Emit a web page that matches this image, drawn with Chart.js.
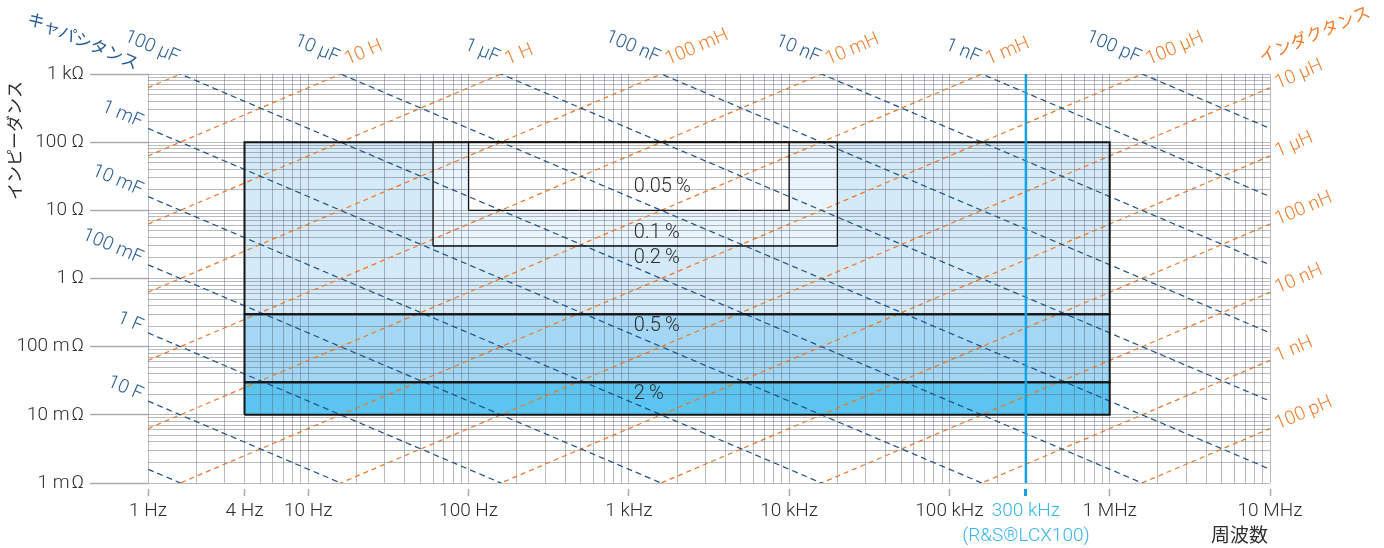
<!DOCTYPE html>
<html>
<head>
<meta charset="utf-8">
<script src="https://cdn.jsdelivr.net/npm/chart.js@4/dist/chart.umd.min.js"></script>
<style>
  html, body { margin: 0; padding: 0; background: #fff; }
  #box { width: 1384px; height: 548px; }
</style>
</head>
<body>
<div id="box"><canvas id="chart" width="1384" height="548"></canvas></div>
<script>
// axis ranges
const freqMin = 1, freqMax = 1e7;
const impMin = 1e-3, impMax = 1e3;

// labelled ticks
const freqTicks = [1, 4, 10, 100, 1e3, 1e4, 1e5, 3e5, 1e6, 1e7];
const freqTickLabels = ['1 Hz', '4 Hz', '10 Hz', '100 Hz', '1 kHz', '10 kHz', '100 kHz', ['300 kHz', '(R&S®LCX100)'], '1 MHz', '10 MHz'];
const impTicks = [1e-3, 1e-2, 0.1, 1, 10, 100, 1e3];
const impTickLabels = ['1 m\u200aΩ', '10 m\u200aΩ', '100 m\u200aΩ', '1 Ω', '10 Ω', '100 Ω', '1 kΩ'];

// capacitance lines (F) and inductance lines (H)
const capValues = [100, 10, 1, 0.1, 0.01, 1e-3, 1e-4, 1e-5, 1e-6, 1e-7, 1e-8, 1e-9, 1e-10];
const capLabels = ['', '10 F', '1 F', '100 mF', '10 mF', '1 mF', '100 µF', '10 µF', '1 µF', '100 nF', '10 nF', '1 nF', '100 pF'];
const indValues = [100, 10, 1, 0.1, 0.01, 1e-3, 1e-4, 1e-5, 1e-6, 1e-7, 1e-8, 1e-9, 1e-10];
const indLabels = ['', '10 H', '1 H', '100 mH', '10 mH', '1 mH', '100 µH', '10 µH', '1 µH', '100 nH', '10 nH', '1 nH', '100 pH'];

// accuracy regions
const accLabels = ['2\u2009%', '0.5\u2009%', '0.2\u2009%', '0.1\u2009%', '0.05\u2009%'];
const accFreqFrom = [4, 4, 4, 60, 100];
const accFreqTo = [1e6, 1e6, 1e6, 2e4, 1e4];
const accImpFrom = [0.01, 0.03, 0.3, 3, 10];
const accImpTo = [0.03, 0.3, 100, 100, 100];
const accLabelImp = [0.02, 0.2, 2, 4.6, 22];
const accLabelFreq = 1000;

// upper frequency of the LCX100
const lcxFreq = 3e5;

// styles
const accColors = ['#5bc4f1', '#a3d7f5', '#d5eaf8', '#eaf4fc', '#ffffff'];
const accBorder = [2, 2, 2, 1.3, 1.3];
const capColor = '#1f4e85', capText = '#2a5d94';
const indColor = '#ee7626', indText = '#f07d2c';
const darkText = '#2e2e2e';
const cyanLine = '#13a2e2', cyanText = '#37b4ea';
const gridColor = 'rgba(95,102,110,0.45)';
const tickMarkColor = '#a7acb1';
const family = 'Roboto, "Noto Sans CJK JP", sans-serif';
const jpFamily = '"Noto Sans CJK JP", sans-serif';

function findIdx(list, v) {
    return list.findIndex(t => Math.abs(v / t - 1) < 1e-6);
}

// grid values 1..9 per decade
function decadeSteps(lo, hi) {
    let out = [];
    for (let e = Math.round(Math.log10(lo)); e < Math.round(Math.log10(hi)); e++) {
        for (let k = 1; k < 10; k++) out.push(k * Math.pow(10, e));
    }
    out.push(hi);
    return out;
}

let datasets = [];
accLabels.forEach((name, i) => {
    const f1 = accFreqFrom[i], f2 = accFreqTo[i], z1 = accImpFrom[i], z2 = accImpTo[i];
    const rect = [{x: f1, y: z1}, {x: f2, y: z1}, {x: f2, y: z2}, {x: f1, y: z2}, {x: f1, y: z1}];
    datasets.push({data: rect, fill: 'shape', backgroundColor: accColors[i], borderWidth: 0, order: 30 - i});
    datasets.push({data: rect, fill: false, borderColor: '#141414', borderWidth: accBorder[i], borderJoinStyle: 'miter', order: 3});
});
capValues.forEach(c => {
    datasets.push({
        data: [{x: freqMin, y: 1 / (2 * Math.PI * freqMin * c)}, {x: freqMax, y: 1 / (2 * Math.PI * freqMax * c)}],
        borderColor: capColor, borderWidth: 1.2, borderDash: [6, 4], fill: false, order: 5
    });
});
indValues.forEach(l => {
    datasets.push({
        data: [{x: freqMin, y: 2 * Math.PI * freqMin * l}, {x: freqMax, y: 2 * Math.PI * freqMax * l}],
        borderColor: indColor, borderWidth: 1.2, borderDash: [5, 4], fill: false, order: 5
    });
});
datasets.push({data: [{x: lcxFreq, y: impMin}, {x: lcxFreq, y: impMax}], borderColor: cyanLine, borderWidth: 2.5, fill: false, order: 1});

const textPlugin = {
    id: 'chartText',
    afterDraw(chart) {
        const {ctx, chartArea: a, scales: {x, y}} = chart;
        const dx = x.getPixelForValue(10) - x.getPixelForValue(1);
        const dy = y.getPixelForValue(1) - y.getPixelForValue(10);
        const ang = Math.atan2(dy, dx);
        function put(text, px, py, rot, align, color, font, base) {
            ctx.save();
            ctx.translate(px, py);
            ctx.rotate(rot);
            ctx.textAlign = align;
            ctx.textBaseline = base || 'alphabetic';
            ctx.fillStyle = color;
            ctx.font = font;
            ctx.fillText(text, 0, 0);
            ctx.restore();
        }
        const lf = '300 19px ' + family;
        capValues.forEach((c, i) => {
            if (!capLabels[i]) return;
            const zLeft = 1 / (2 * Math.PI * freqMin * c);
            if (zLeft <= impMax) {
                put(capLabels[i], a.left - 8, y.getPixelForValue(zLeft) - 1, ang, 'right', capText, lf);
            } else {
                const fTop = 1 / (2 * Math.PI * c * impMax);
                put(capLabels[i], x.getPixelForValue(fTop) - 4, a.top - 11, ang, 'right', capText, lf);
            }
        });
        indValues.forEach((l, i) => {
            if (!indLabels[i]) return;
            const zRight = 2 * Math.PI * freqMax * l;
            if (zRight <= impMax) {
                put(indLabels[i], a.right + 8, y.getPixelForValue(zRight) + 1, -ang, 'left', indText, lf);
            } else {
                const fTop = impMax / (2 * Math.PI * l);
                put(indLabels[i], x.getPixelForValue(fTop) + 7, a.top - 9, -ang, 'left', indText, lf);
            }
        });
        // accuracy labels
        accLabels.forEach((t, i) => {
            put(t, x.getPixelForValue(accLabelFreq) + 5, y.getPixelForValue(accLabelImp[i]), 0, 'left', darkText, '300 20px ' + family, 'middle');
        });
        // titles
        const jf = '17px ' + jpFamily;
        put('キャパシタンス', a.left - 122, a.top - 51, ang, 'left', capText, jf);
        put('インダクタンス', a.right - 8, a.top - 11, -ang, 'left', indText, jf);
        put('インピーダンス', 15, a.top + 7, -Math.PI / 2, 'right', darkText, jf, 'middle');
        put('周波数', a.right - 2, a.bottom + 52, 0, 'right', darkText, '19px ' + jpFamily, 'middle');
    }
};

const chart = new Chart(document.getElementById('chart'), {
    type: 'line',
    data: {datasets: datasets},
    plugins: [textPlugin],
    options: {
        responsive: false,
        animation: false,
        devicePixelRatio: 1,
        events: [],
        layout: {padding: {top: 74, right: 114, left: 0, bottom: 0}},
        elements: {point: {radius: 0, hoverRadius: 0}, line: {tension: 0}},
        plugins: {
            legend: {display: false},
            tooltip: {enabled: false},
            filler: {drawTime: 'beforeDraw'}
        },
        scales: {
            x: {
                type: 'logarithmic',
                min: freqMin,
                max: freqMax,
                afterFit: s => { s.height = 65; },
                afterBuildTicks: s => { s.ticks = decadeSteps(freqMin, freqMax).map(v => ({value: v})); },
                border: {display: false},
                grid: {
                    color: gridColor,
                    lineWidth: 1,
                    drawTicks: true,
                    tickLength: 14,
                    tickBorderDash: [0, 6, 7, 100],
                    tickColor: c => {
                        const i = findIdx(freqTicks, c.tick.value);
                        if (i < 0) return 'rgba(0,0,0,0)';
                        return freqTicks[i] === lcxFreq ? cyanLine : tickMarkColor;
                    },
                    tickWidth: c => (findIdx([lcxFreq], c.tick.value) === 0 ? 3 : 1.5)
                },
                ticks: {
                    autoSkip: false,
                    maxRotation: 0,
                    minRotation: 0,
                    padding: 1,
                    font: {family: family, size: 19, weight: 300, lineHeight: 1.35},
                    color: c => (findIdx([lcxFreq], c.tick.value) === 0 ? cyanText : darkText),
                    callback: v => {
                        const i = findIdx(freqTicks, v);
                        return i < 0 ? '' : freqTickLabels[i];
                    }
                }
            },
            y: {
                type: 'logarithmic',
                min: impMin,
                max: impMax,
                afterFit: s => { s.width = 148; },
                afterBuildTicks: s => { s.ticks = decadeSteps(impMin, impMax).map(v => ({value: v})); },
                border: {display: false},
                grid: {
                    color: gridColor,
                    lineWidth: 1,
                    drawTicks: true,
                    tickLength: 58,
                    tickWidth: 1.5,
                    tickColor: c => (findIdx(impTicks, c.tick.value) < 0 ? 'rgba(0,0,0,0)' : tickMarkColor)
                },
                ticks: {
                    autoSkip: false,
                    padding: 6,
                    font: {family: family, size: 19, weight: 300},
                    color: darkText,
                    callback: v => {
                        const i = findIdx(impTicks, v);
                        return i < 0 ? '' : impTickLabels[i];
                    }
                }
            }
        }
    }
});
</script>
</body>
</html>
